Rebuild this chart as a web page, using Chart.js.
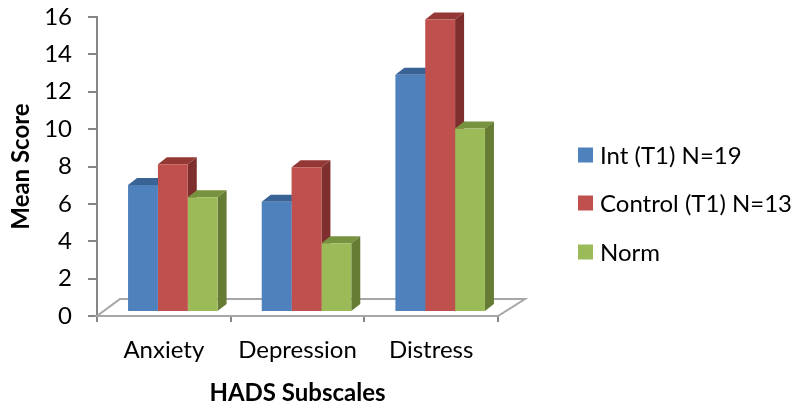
<!DOCTYPE html>
<html>
<head>
<meta charset="utf-8">
<script src="https://cdn.jsdelivr.net/npm/chart.js@4/dist/chart.umd.min.js"></script>
<style>
  html, body { margin: 0; padding: 0; background: #fff; }
  #wrap { width: 794px; height: 405px; }
</style>
</head>
<body>
<div id="wrap"><canvas id="c" width="794" height="405"></canvas></div>
<script>
// HADS subscale means by group
const categories = ['Anxiety', 'Depression', 'Distress'];
const seriesNames = ['Int (T1) N=19', 'Control (T1) N=13', 'Norm'];
const intT1 = [6.8, 5.9, 12.7];
const controlT1 = [7.9, 7.75, 15.65];
const norm = [6.14, 3.68, 9.82];
const yTicks = [0, 2, 4, 6, 8, 10, 12, 14, 16];

const FONT = 'Lato';
const FS = 24;
const front = ['#4F81BD', '#C0504D', '#9BBB59'];
const topFace = ['#3A6395', '#943835', '#78933F'];
const sideFace = ['#335683', '#7E2F2D', '#667C35'];

// depth of the extruded bars and shift of the bar row behind the floor edge
const DEPTH = { dx: 9, dy: -7 };
const ROW = { dx: 9, dy: -4 };
const FLOOR = { dxL: 23, dxR: 27, dy: -17 };

const pseudo3d = {
  id: 'pseudo3d',
  beforeDatasetsDraw(chart) {
    const ctx = chart.ctx;
    const a = chart.chartArea;
    // floor
    ctx.save();
    ctx.beginPath();
    ctx.moveTo(a.left, a.bottom);
    ctx.lineTo(a.right, a.bottom);
    ctx.lineTo(a.right + FLOOR.dxR, a.bottom + FLOOR.dy);
    ctx.lineTo(a.left + FLOOR.dxL, a.bottom + FLOOR.dy);
    ctx.closePath();
    ctx.fillStyle = '#ffffff';
    ctx.fill();
    ctx.strokeStyle = '#a6a6a6';
    ctx.lineWidth = 2;
    ctx.stroke();
    ctx.restore();

    ctx.save();
    ctx.translate(ROW.dx, ROW.dy);
    const metas = chart.data.datasets.map((d, i) => chart.getDatasetMeta(i));
    for (let j = 0; j < categories.length; j++) {
      metas.forEach((meta, i) => {
        const el = meta.data[j];
        if (!el) return;
        const p = el.getProps(['x', 'y', 'base', 'width'], true);
        const l = p.x - p.width / 2, r = p.x + p.width / 2;
        // top face
        ctx.beginPath();
        ctx.moveTo(l, p.y);
        ctx.lineTo(r, p.y);
        ctx.lineTo(r + DEPTH.dx, p.y + DEPTH.dy);
        ctx.lineTo(l + DEPTH.dx, p.y + DEPTH.dy);
        ctx.closePath();
        ctx.fillStyle = topFace[i];
        ctx.fill();
        // right side face
        ctx.beginPath();
        ctx.moveTo(r, p.y);
        ctx.lineTo(r + DEPTH.dx, p.y + DEPTH.dy);
        ctx.lineTo(r + DEPTH.dx, p.base + DEPTH.dy);
        ctx.lineTo(r, p.base);
        ctx.closePath();
        ctx.fillStyle = sideFace[i];
        ctx.fill();
      });
    }
  },
  afterDatasetsDraw(chart) {
    chart.ctx.restore();
  }
};

const sideLegend = {
  id: 'sideLegend',
  afterDraw(chart) {
    const ctx = chart.ctx;
    const rows = [155, 203, 252];
    ctx.save();
    ctx.font = FS + 'px ' + FONT;
    ctx.textBaseline = 'middle';
    ctx.textAlign = 'left';
    chart.data.datasets.forEach((ds, i) => {
      ctx.fillStyle = ds.backgroundColor;
      ctx.fillRect(578, rows[i] - 7.5, 15, 15);
      ctx.fillStyle = '#000';
      ctx.fillText(ds.label, 600, rows[i] + 1);
    });
    ctx.restore();
  }
};

new Chart(document.getElementById('c'), {
  type: 'bar',
  data: {
    labels: categories,
    datasets: [
      { label: seriesNames[0], data: intT1, backgroundColor: front[0] },
      { label: seriesNames[1], data: controlT1, backgroundColor: front[1] },
      { label: seriesNames[2], data: norm, backgroundColor: front[2] }
    ]
  },
  options: {
    responsive: false,
    animation: false,
    events: [],
    layout: { padding: { top: 17, right: 296, bottom: 0, left: 0 } },
    datasets: { bar: { categoryPercentage: 0.67, barPercentage: 1.0, borderWidth: 0 } },
    plugins: { legend: { display: false }, tooltip: { enabled: false } },
    scales: {
      x: {
        grid: { display: true, drawOnChartArea: false, drawTicks: true, tickLength: 6, color: '#868686', lineWidth: 2, offset: true },
        border: { display: false },
        ticks: { color: '#000', font: { family: FONT, size: FS }, padding: 14, maxRotation: 0 },
        title: { display: true, text: 'HADS Subscales', color: '#000', font: { family: FONT, size: FS, weight: 'bold', lineHeight: 1 }, padding: { top: 0, bottom: 0 } },
        afterFit(scale) { scale.height = 89; scale.paddingLeft = 0; scale.paddingRight = 0; }
      },
      y: {
        min: 0, max: 16,
        afterBuildTicks(scale) { scale.ticks = yTicks.map(v => ({ value: v })); },
        grid: { display: true, drawOnChartArea: false, drawTicks: true, tickLength: 9, color: '#868686', lineWidth: 2 },
        border: { display: true, color: '#868686', width: 2 },
        ticks: { color: '#000', font: { family: FONT, size: FS }, padding: 16 },
        title: { display: true, text: 'Mean Score', color: '#000', font: { family: FONT, size: FS, weight: 'bold', lineHeight: 1 }, padding: { top: 9, bottom: 0 } },
        afterFit(scale) { scale.width = 97; scale.paddingTop = 0; scale.paddingBottom = 0; }
      }
    }
  },
  plugins: [pseudo3d, sideLegend]
});
</script>
</body>
</html>
